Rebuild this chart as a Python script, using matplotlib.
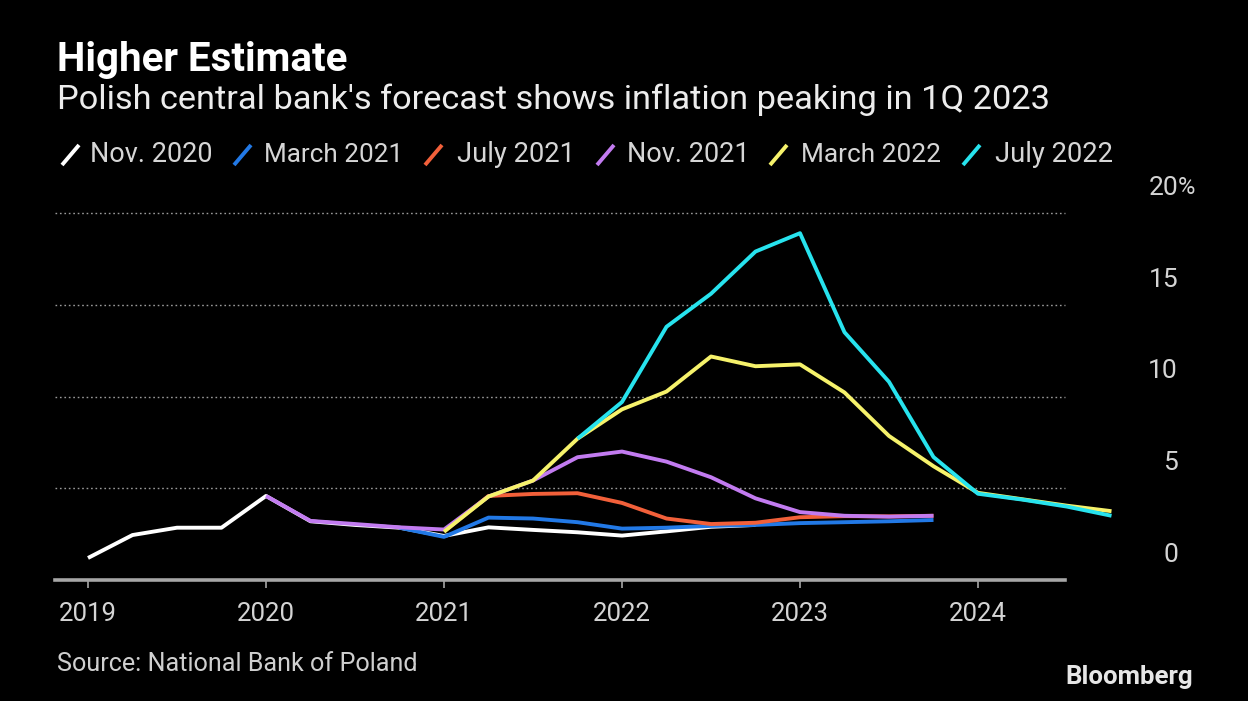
import matplotlib
matplotlib.use("Agg")
import matplotlib.pyplot as plt
from matplotlib.lines import Line2D
import matplotlib.transforms as mtransforms

# ---------------- data ----------------
def q(year, qtr):
    return year + 0.25 * (qtr - 1)

nov2020_x = [q(2019, 1), q(2019, 2), q(2019, 3), q(2019, 4), q(2020, 1), q(2020, 2), q(2020, 3), q(2020, 4),
             q(2021, 1), q(2021, 2), q(2021, 3), q(2021, 4), q(2022, 1), q(2022, 2), q(2022, 3), q(2022, 4)]
nov2020_y = [1.2, 2.45, 2.85, 2.85, 4.58, 3.2, 3.0, 2.85, 2.4, 2.87, 2.73, 2.6, 2.42, 2.65, 2.9, 3.0]

mar2021_x = [q(2020, 4), q(2021, 1), q(2021, 2), q(2021, 3), q(2021, 4), q(2022, 1), q(2022, 2), q(2022, 3),
             q(2022, 4), q(2023, 1), q(2023, 2), q(2023, 3), q(2023, 4)]
mar2021_y = [2.85, 2.35, 3.4, 3.35, 3.15, 2.8, 2.85, 2.95, 3.0, 3.1, 3.15, 3.2, 3.27]

jul2021_x = [q(2021, 1), q(2021, 2), q(2021, 3), q(2021, 4), q(2022, 1), q(2022, 2), q(2022, 3), q(2022, 4),
             q(2023, 1), q(2023, 2), q(2023, 3), q(2023, 4)]
jul2021_y = [2.65, 4.58, 4.69, 4.73, 4.2, 3.35, 3.05, 3.12, 3.42, 3.48, 3.47, 3.5]

nov2021_x = [q(2020, 1), q(2020, 2), q(2020, 3), q(2020, 4), q(2021, 1), q(2021, 2), q(2021, 3), q(2021, 4),
             q(2022, 1), q(2022, 2), q(2022, 3), q(2022, 4), q(2023, 1), q(2023, 2), q(2023, 3), q(2023, 4)]
nov2021_y = [4.58, 3.22, 3.05, 2.87, 2.75, 4.55, 5.42, 6.69, 7.0, 6.45, 5.6, 4.45, 3.7, 3.5, 3.45, 3.5]

mar2022_x = [q(2021, 1), q(2021, 2), q(2021, 3), q(2021, 4), q(2022, 1), q(2022, 2), q(2022, 3), q(2022, 4),
             q(2023, 1), q(2023, 2), q(2023, 3), q(2023, 4), q(2024, 1), q(2024, 2), q(2024, 3), q(2024, 4)]
mar2022_y = [2.63, 4.55, 5.42, 7.7, 9.3, 10.27, 12.18, 11.65, 11.75, 10.22, 7.85, 6.2, 4.75, 4.4, 4.05, 3.75]

jul2022_x = [q(2021, 4), q(2022, 1), q(2022, 2), q(2022, 3), q(2022, 4), q(2023, 1), q(2023, 2), q(2023, 3),
             q(2023, 4), q(2024, 1), q(2024, 2), q(2024, 3), q(2024, 4)]
jul2022_y = [7.7, 9.7, 13.8, 15.6, 17.9, 18.9, 13.5, 10.8, 6.7, 4.7, 4.38, 4.0, 3.5]

series_names = ["Nov. 2020", "March 2021", "July 2021", "Nov. 2021", "March 2022", "July 2022"]
series_x = [nov2020_x, mar2021_x, jul2021_x, nov2021_x, mar2022_x, jul2022_x]
series_y = [nov2020_y, mar2021_y, jul2021_y, nov2021_y, mar2022_y, jul2022_y]
series_colors = ["#ffffff", "#2279e6", "#f2603a", "#c27bf0", "#f6f26b", "#27e3ee"]

year_ticks = [2019, 2020, 2021, 2022, 2023, 2024]
year_labels = ["2019", "2020", "2021", "2022", "2023", "2024"]
y_ticks = [0, 5, 10, 15, 20]
y_labels = ["0", "5", "10", "15", "20"]

title = "Higher Estimate"
subtitle = "Polish central bank's forecast shows inflation peaking in 1Q 2023"
source = "Source: National Bank of Poland"

# ---------------- figure ----------------
W, H = 1248, 701
plt.rcParams['font.family'] = ['Roboto', 'DejaVu Sans']
fig = plt.figure(figsize=(W / 100, H / 100), dpi=100, facecolor="black")

def fx(x):
    return x / W

def fy(y):
    return 1 - y / H

ax_l, ax_r, ax_t, ax_b = 55, 1065, 213, 580
ax = fig.add_axes([fx(ax_l), fy(ax_b), fx(ax_r - ax_l), (ax_b - ax_t) / H])
ax.set_facecolor("black")

x_left = 2019 - (88 - ax_l) / 178.0
x_right = 2019 + (ax_r - 88) / 178.0
ax.set_xlim(x_left, x_right)
ax.set_ylim(0, 20)

for v in y_ticks[1:]:
    ax.axhline(v, color="#9a9a9a", lw=1.0, linestyle=(0, (1.2, 2.0)), zorder=1, clip_on=False)

for xs, ys, c in zip(series_x, series_y, series_colors):
    ax.plot(xs, ys, color=c, lw=2.8, solid_joinstyle="round", solid_capstyle="butt", zorder=3, clip_on=False)

for s in ["top", "right", "left"]:
    ax.spines[s].set_visible(False)
ax.spines["bottom"].set_color("#a6a6a6")
ax.spines["bottom"].set_linewidth(2.6)
ax.spines["bottom"].set_zorder(2)

ax.set_yticks([])
ax.set_xticks(year_ticks)
ax.set_xticklabels(year_labels)
ax.tick_params(axis="x", direction="out", length=6, width=1.2, color="#a6a6a6",
               labelcolor="#d4d4d4", labelsize=18.5, pad=10)

# y labels, placed above their grid lines on the right
trans = mtransforms.blended_transform_factory(fig.transFigure, ax.transData)
offset = mtransforms.ScaledTranslation(0, 25 / 100, fig.dpi_scale_trans)
for v, lab in zip(y_ticks, y_labels):
    ax.text(fx(1178), v, lab, transform=trans + offset, ha="right", va="center",
            color="#d4d4d4", fontsize=19, clip_on=False)
ax.text(fx(1178), 20, "%", transform=trans + offset, ha="left", va="center",
        color="#d4d4d4", fontsize=17, clip_on=False)

# titles
t_title = fig.text(fx(57), fy(60), title, color="white", fontsize=22, fontweight="bold",
                   ha="left", va="center")
t_sub = fig.text(fx(57), fy(100), subtitle, color="#ececec", fontsize=20, ha="left", va="center")

# legend
leg_slash_x = [62, 234, 425, 597, 770, 963]
leg_text_x = [90, 264, 457, 627, 801, 995]
leg_text_w = [122, 139, 118, 122, 140, 118]
leg_texts = []
for sx, tx, name, c in zip(leg_slash_x, leg_text_x, series_names, series_colors):
    fig.add_artist(Line2D([fx(sx), fx(sx + 17)], [fy(165), fy(145)], color=c, lw=2.8,
                          solid_capstyle="butt", transform=fig.transFigure))
    leg_texts.append(fig.text(fx(tx), fy(155), name, color="#d6d6d6", fontsize=18,
                              ha="left", va="center"))

t_src = fig.text(fx(57), fy(664), source, color="#cfcfcf", fontsize=16, ha="left", va="center")
t_bb = fig.text(fx(1193), fy(677), "Bloomberg", color="#e6e6e6", fontsize=17, fontweight="bold",
                ha="right", va="center")

# fit text widths to the reference
fig.canvas.draw()
renderer = fig.canvas.get_renderer()

def fit(t, target_w):
    w = t.get_window_extent(renderer).width
    if w > 0:
        t.set_fontsize(t.get_fontsize() * target_w / w)

fit(t_title, 290)
fit(t_sub, 991)
for t, w in zip(leg_texts, leg_text_w):
    fit(t, w)
fit(t_src, 360)
fit(t_bb, 128)

plt.savefig("out.png", dpi=100, facecolor="black")
